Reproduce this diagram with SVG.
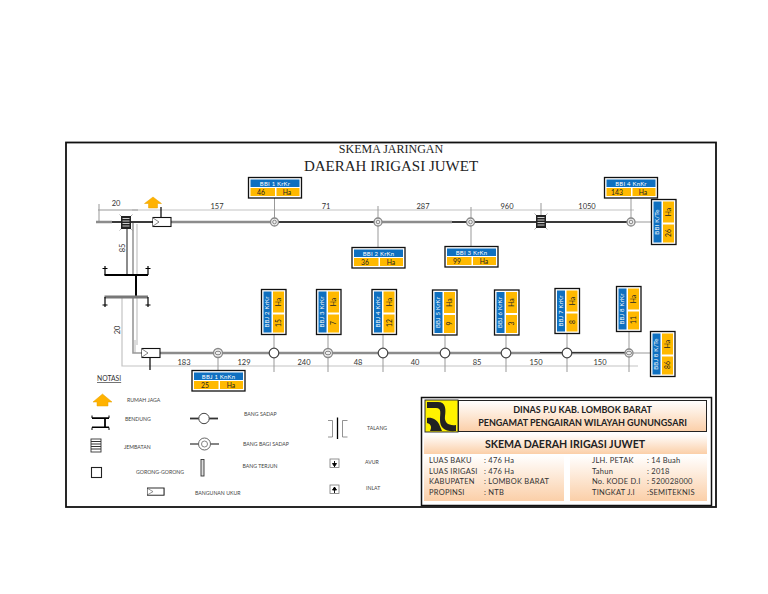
<svg xmlns="http://www.w3.org/2000/svg" width="768" height="594" viewBox="0 0 768 594">
<style>
text{font-family:Lato,"Open Sans","Liberation Sans",sans-serif;fill:#222}
.d{font-size:7.500px;text-anchor:middle;fill:#333}
.l{font-size:5.200px;fill:#444}
.i{font-size:7.500px;fill:#333;letter-spacing:.25px}
.bl{fill:#0f70c0}
.ye{fill:#ffb900}
.bx{fill:#fff;stroke:#111;stroke-width:1.300}
.w{font-size:6px;fill:#fff;text-anchor:middle;letter-spacing:.2px}
.k{font-size:6.800px;fill:#222;text-anchor:middle}
.thin{stroke:#c4c4c4;stroke-width:1.200;fill:none}
.tick{stroke:#999;stroke-width:1;fill:none}
.cg{stroke:#8c8c8c;stroke-width:2.600;fill:none}
.cv{stroke:#999;stroke-width:1.600;fill:none}
.cd{stroke:#3a3a3a;stroke-width:2;fill:none}
.blk{stroke:#000;stroke-width:1.200;fill:none}
.open{fill:#fff;stroke:#444;stroke-width:1.200}
.dbl{fill:#eee;stroke:#888;stroke-width:1.300}
.house{fill:#ffb200;stroke:#e6a000;stroke-width:.5}
</style>
<defs>
<linearGradient id="peach" x1="0" y1="0" x2="0" y2="1"><stop offset="0" stop-color="#fff"/><stop offset="1" stop-color="#fbcfa8"/></linearGradient>
<g id="hbox"><rect class="bx" x="0.500" y="0.500" width="53" height="20.500"/><rect class="bl" x="2.500" y="2.500" width="49" height="7.500"/><rect class="ye" x="2.500" y="11" width="24.500" height="8"/><rect class="ye" x="28.500" y="11" width="23" height="8"/></g>
<g id="vbox"><rect class="bx" x="0.500" y="0.500" width="24.500" height="45"/><rect class="bl" x="2.500" y="2.500" width="8" height="41"/><rect class="ye" x="12" y="2.500" width="11" height="21"/><rect class="ye" x="12" y="25.500" width="11" height="18"/></g>
<g id="bridge"><rect x="0" y="0" width="10" height="13" fill="#222"/><path d="M1.500 2.500H8.500M1.500 5H8.500M1.500 7.500H8.500M1.500 10H8.500" stroke="#ccc" stroke-width="1"/><path d="M-1.500-1.500 0 0M11.500-1.500 10 0M-1.500 14.500 0 13M11.500 14.500 10 13" stroke="#888" stroke-width=".7"/></g>
<g id="ukur"><rect x="0" y="0" width="18" height="9" fill="#fff" stroke="#111" stroke-width="1.100"/><path d="M0 .5 6 4.500 0 8.500" fill="#fff" stroke="#666" stroke-width=".8"/></g>
</defs>
<rect width="768" height="594" fill="#fff"/>
<rect id="frame" x="66" y="142.500" width="650" height="364.500" fill="#fff" stroke="#111" stroke-width="1.800"/>
<text x="391" y="153" text-anchor="middle" style="font-family:'Liberation Serif',serif;font-size:12px">SKEMA JARINGAN</text>
<text x="391" y="171" text-anchor="middle" style="font-family:'Liberation Serif',serif;font-size:15px">DAERAH IRIGASI JUWET</text>

<g id="connectors">
<path class="thin" d="M132 210H634M122 297V366H638M135 340V353"/>
<path class="tick" d="M98 210H138M99 204V222M378 206V247M471 207V246M541 203V216M274.500 198V222M631 198V222M631 222H651M629 353H650M274 335V372M328 335V372M383 335V372M445 334V372M506 334V372M567 333V372M629 332V372M218 353V370"/>
<path class="cg" d="M96 222H112M171 222H274M378 222H452M160 353H630"/>
<path class="cv" d="M133 223V275M133 297V353H142"/>
<path class="cd" d="M112 222H153M274 222H378M452 222H630"/>
<path d="M540 352.500H630" stroke="#333" stroke-width="1.200"/>
<path class="thin" d="M137 224V275M137 297V345"/>
<path d="M127 222V275" stroke="#666" stroke-width="1.500" fill="none"/>
<path d="M161 207V218M150 358V370" class="blk"/>
<path d="M104.500 275H148M136 275V297" stroke="#000" stroke-width="2" fill="none"/>
<path d="M104.500 297H148" stroke="#777" stroke-width="3" fill="none"/>
<path class="blk" d="M105 266V275M148 266V275M105 297V307M148 297V307M102.500 268.500H107.500M145.500 268.500H150.500M102.500 305H107.500M145.500 305H150.500"/>
</g>

<g id="dims">
<text class="d" x="116" y="206">20</text><text class="d" x="217" y="209">157</text><text class="d" x="326" y="209">71</text><text class="d" x="423" y="209">287</text><text class="d" x="507" y="209">960</text><text class="d" x="587" y="209">1050</text>
<text class="d" transform="translate(125,248) rotate(-90)">85</text><text class="d" transform="translate(120,330) rotate(-90)">20</text>
<text class="d" x="184" y="365">183</text><text class="d" x="244" y="365">129</text><text class="d" x="304" y="365">240</text><text class="d" x="358" y="365">48</text><text class="d" x="415" y="365">40</text><text class="d" x="477" y="365">85</text><text class="d" x="536" y="365">150</text><text class="d" x="600" y="365">150</text>
</g>

<g id="rumah-jaga"><path class="house" d="M153 197 161.500 203.500H157.500V208H148.500V203.500H144.500Z"/></g>
<g id="jembatan-1"><use href="#bridge" x="121" y="216"/></g>
<g id="jembatan-2"><use href="#bridge" x="536" y="215"/></g>
<g id="ukur-1"><use href="#ukur" x="153" y="217.500"/></g>
<g id="ukur-2"><use href="#ukur" x="142" y="348.500"/></g>

<g id="nodes-top">
<circle class="dbl" cx="274.500" cy="222" r="4"/><circle cx="274.500" cy="222" r="1.800" fill="none" stroke="#888"/>
<circle class="dbl" cx="378" cy="222" r="4"/><circle cx="378" cy="222" r="1.800" fill="none" stroke="#888"/>
<circle class="dbl" cx="470.500" cy="222" r="4"/><circle cx="470.500" cy="222" r="1.800" fill="none" stroke="#888"/>
<circle class="dbl" cx="631" cy="222" r="4"/><circle cx="631" cy="222" r="1.800" fill="none" stroke="#888"/>
</g>
<g id="nodes-bottom">
<circle class="dbl" cx="218" cy="353" r="4.500"/><ellipse cx="218" cy="353" rx="2.800" ry="1.800" fill="none" stroke="#888"/>
<circle class="open" cx="274" cy="353" r="4.800"/>
<circle class="dbl" cx="328" cy="353" r="4.500"/><ellipse cx="328" cy="353" rx="2.800" ry="1.800" fill="none" stroke="#888"/>
<circle class="open" cx="383" cy="353" r="4.800"/>
<circle class="open" cx="445" cy="353" r="4.800"/>
<circle class="open" cx="506" cy="353" r="4.800"/>
<circle class="open" cx="567" cy="353" r="4.800"/>
<circle class="dbl" cx="629" cy="353" r="4"/><ellipse cx="629" cy="353" rx="2.600" ry="1.800" fill="none" stroke="#888"/>
</g>

<g id="bbi1"><use href="#hbox" x="248" y="177"/><text class="w" x="275" y="185.500">BBI 1 KrKr</text><text class="k" x="261" y="195">46</text><text class="k" x="287" y="195">Ha</text></g>
<g id="bbi4"><use href="#hbox" x="604" y="177"/><text class="w" x="631" y="185.500">BBI 4 KnKr</text><text class="k" x="617" y="195">143</text><text class="k" x="643" y="195">Ha</text></g>
<g id="bbi2"><use href="#hbox" x="351.500" y="247"/><text class="w" x="378.500" y="255.500">BBI 2 KrKn</text><text class="k" x="365" y="265">36</text><text class="k" x="391" y="265">Ha</text></g>
<g id="bbi3"><use href="#hbox" x="444.500" y="246"/><text class="w" x="471.500" y="254.500">BBI 3 KrKn</text><text class="k" x="457" y="264">99</text><text class="k" x="484" y="264">Ha</text></g>
<g id="bbj1"><use href="#hbox" x="191.500" y="370"/><text class="w" x="218.500" y="378.500">BBJ 1 KnKn</text><text class="k" x="205" y="388">25</text><text class="k" x="231" y="388">Ha</text></g>

<g id="bbi-te"><use href="#vbox" x="651" y="199"/><text class="w" transform="translate(659,222) rotate(-90)">BBI K/Te</text><text class="k" transform="translate(671,212) rotate(-90)">Ha</text><text class="k" transform="translate(671,233) rotate(-90)">26</text></g>
<g id="bbj2"><use href="#vbox" x="261" y="289"/><text class="w" transform="translate(269,312) rotate(-90)">BBJ 2 KrKr</text><text class="k" transform="translate(281,302) rotate(-90)">Ha</text><text class="k" transform="translate(281,323) rotate(-90)">15</text></g>
<g id="bbj3"><use href="#vbox" x="316" y="289"/><text class="w" transform="translate(324,312) rotate(-90)">BBJ 3 KrKr</text><text class="k" transform="translate(336,302) rotate(-90)">Ha</text><text class="k" transform="translate(336,323) rotate(-90)">7</text></g>
<g id="bbj4"><use href="#vbox" x="371.500" y="289"/><text class="w" transform="translate(379.500,312) rotate(-90)">BBJ 4 KrKr</text><text class="k" transform="translate(391.500,302) rotate(-90)">Ha</text><text class="k" transform="translate(391.500,323) rotate(-90)">12</text></g>
<g id="bbj5"><use href="#vbox" x="432" y="289.500"/><text class="w" transform="translate(440,312.500) rotate(-90)">BBJ 5 KrKr</text><text class="k" transform="translate(452,302.500) rotate(-90)">Ha</text><text class="k" transform="translate(452,323.500) rotate(-90)">9</text></g>
<g id="bbj6"><use href="#vbox" x="494" y="289.500"/><text class="w" transform="translate(502,312.500) rotate(-90)">BBJ 6 KrKr</text><text class="k" transform="translate(514,302.500) rotate(-90)">Ha</text><text class="k" transform="translate(514,323.500) rotate(-90)">3</text></g>
<g id="bbj7"><use href="#vbox" x="554.500" y="288"/><text class="w" transform="translate(562.500,311) rotate(-90)">BBJ 7 KrKr</text><text class="k" transform="translate(574.500,301) rotate(-90)">Ha</text><text class="k" transform="translate(574.500,322) rotate(-90)">8</text></g>
<g id="bbj8"><use href="#vbox" x="616" y="286"/><text class="w" transform="translate(624,309) rotate(-90)">BBJ 8 KrKr</text><text class="k" transform="translate(636,299) rotate(-90)">Ha</text><text class="k" transform="translate(636,320) rotate(-90)">11</text></g>
<g id="bbj-te"><use href="#vbox" x="650" y="331"/><text class="w" transform="translate(658,354) rotate(-90)">BBJ 8 K/Te</text><text class="k" transform="translate(670,344) rotate(-90)">Ha</text><text class="k" transform="translate(670,365) rotate(-90)">86</text></g>

<g id="legend">
<text x="97" y="381" style="font-size:6.800px;fill:#333;text-decoration:underline">NOTASI</text>
<path class="house" d="M102.500 394 112 402H108V406H97V402H93Z"/>
<text class="l" x="127" y="402">RUMAH JAGA</text>
<path d="M92 415.500V418H109V415.500M92 430V427.500H109V430" stroke="#000" stroke-width="1" fill="none"/>
<path d="M92 418.200H109M92 427.300H109" stroke="#000" stroke-width="1.600" fill="none"/>
<path d="M105 418V427.500" stroke="#000" stroke-width="1.800"/>
<text class="l" x="125" y="420.500">BENDUNG</text>
<g transform="translate(91,439)"><rect x="0" y="0" width="10" height="13" fill="#fff" stroke="#333" stroke-width=".9"/><path d="M0 2.500H10M0 5H10M0 7.500H10M0 10H10" stroke="#333" stroke-width="1.100"/></g>
<text class="l" x="124" y="449">JEMBATAN</text>
<rect x="91.500" y="467.500" width="10" height="10" fill="#fff" stroke="#222" stroke-width="1.100"/>
<text class="l" x="136" y="474">GORONG-GORONG</text>
<use href="#ukur" transform="translate(147.500,488) scale(.92,.8)"/>
<text class="l" x="195" y="494.500">BANGUNAN UKUR</text>
<path d="M190 418.500H218" stroke="#333" stroke-width="1.800"/><circle cx="204" cy="418.500" r="5.200" fill="#fff" stroke="#444"/>
<text class="l" x="244" y="416">BANG SADAP</text>
<path d="M190 444H219" stroke="#333" stroke-width="1.200"/><circle cx="204.500" cy="444" r="6" fill="#fff" stroke="#666"/><circle cx="204.500" cy="444" r="3" fill="none" stroke="#666" stroke-width=".8"/>
<text class="l" x="243" y="446">BANG BAGI SADAP</text>
<rect x="201" y="459.500" width="3" height="16.500" fill="#ddd" stroke="#333" stroke-width=".9"/>
<text class="l" x="242.500" y="468">BANG TERJUN</text>
<path d="M328 420.500H332.500V437H328M347.500 420.500H342.500V437H347.500" stroke="#777" stroke-width=".8" fill="none"/>
<path d="M337.500 417.500V439" stroke="#000" stroke-width="1.300"/>
<text class="l" x="367" y="430">TALANG</text>
<rect x="330" y="459" width="9" height="8.500" fill="#fff" stroke="#777" stroke-width=".8"/><path d="M334.500 461V467M332.500 463.500H336.500L334.500 466.500Z" stroke="#000" stroke-width=".9"/>
<text class="l" x="365" y="464">AVUR</text>
<rect x="330" y="485" width="9" height="8.500" fill="#fff" stroke="#777" stroke-width=".8"/><path d="M334.500 487V493M332.500 490H336.500L334.500 487Z" stroke="#000" stroke-width=".9"/>
<text class="l" x="366" y="490">INLAT</text>
</g>

<g id="title-block">
<rect x="421.500" y="397.500" width="290" height="108" fill="#fff" stroke="#111" stroke-width="1.500"/>
<rect x="425" y="400" width="33" height="32" fill="#fff200" stroke="#333" stroke-width="1"/>
<path d="M427 402H438C446 402 446 410 445 416C444 423 449 426 456 425V431C445 432 440 428 440 420C440 413 442 408 436 408H427ZM427 418C432 417 437 420 439 424L442 431H430C432 427 431 424 427 423Z" fill="#222"/>
<rect x="458.500" y="400.500" width="248" height="31" fill="url(#peach)" stroke="#222" stroke-width="1"/>
<text x="582.500" y="413" text-anchor="middle" style="font-size:9px;font-weight:700;fill:#222">DINAS P.U KAB. LOMBOK BARAT</text>
<text x="582.500" y="426" text-anchor="middle" style="font-size:9px;font-weight:700;fill:#222">PENGAMAT PENGAIRAN WILAYAH GUNUNGSARI</text>
<rect x="424" y="434" width="283" height="20" fill="url(#peach)"/>
<text x="565" y="448" text-anchor="middle" style="font-size:10.600px;font-weight:700;fill:#222">SKEMA  DAERAH IRIGASI JUWET</text>
<rect x="424" y="455" width="140" height="46" fill="url(#peach)"/>
<rect x="570" y="455" width="137" height="46" fill="url(#peach)"/>
<text class="i" x="429" y="463">LUAS BAKU</text><text class="i" x="484" y="463">: 476 Ha</text>
<text class="i" x="429" y="473.500">LUAS IRIGASI</text><text class="i" x="484" y="473.500">: 476 Ha</text>
<text class="i" x="429" y="484">KABUPATEN</text><text class="i" x="484" y="484">: LOMBOK BARAT</text>
<text class="i" x="429" y="494.500">PROPINSI</text><text class="i" x="484" y="494.500">: NTB</text>
<text class="i" x="592" y="463">JLH. PETAK</text><text class="i" x="647" y="463">: 14 Buah</text>
<text class="i" x="592" y="473.500">Tahun</text><text class="i" x="647" y="473.500">: 2018</text>
<text class="i" x="592" y="484">No. KODE D.I</text><text class="i" x="647" y="484">: 520028000</text>
<text class="i" x="592" y="494.500">TINGKAT J.I</text><text class="i" x="647" y="494.500">:SEMITEKNIS</text>
</g>
</svg>
